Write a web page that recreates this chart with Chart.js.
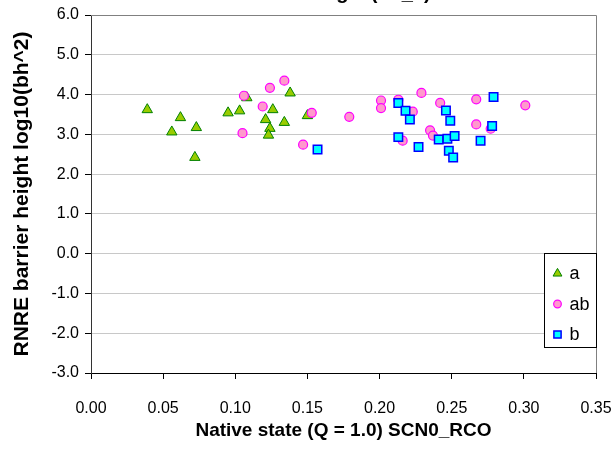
<!DOCTYPE html>
<html>
<head>
<meta charset="utf-8">
<script src="https://cdn.jsdelivr.net/npm/chart.js"></script>
<style>
    html, body { margin: 0; padding: 0; background: #fff; overflow: hidden; }
    #wrap { position: relative; width: 616px; height: 453px; }
</style>
</head>
<body>
<div id="wrap"><canvas id="scatterChart" width="616" height="453"></canvas></div>
<script>
// Nhóm a (tam giác)
var groupA_x = [0.039, 0.056, 0.062, 0.073, 0.072, 0.095, 0.103, 0.108, 0.126, 0.121, 0.124, 0.123, 0.134, 0.138, 0.150];
var groupA_y = [3.62, 3.06, 3.42, 3.17, 2.42, 3.54, 3.59, 3.92, 3.62, 3.37, 3.15, 2.98, 3.30, 4.04, 3.47];

// Nhóm ab (hình tròn)
var groupAB_x = [0.106, 0.105, 0.119, 0.124, 0.134, 0.147, 0.153, 0.179, 0.201, 0.201, 0.213, 0.223, 0.229, 0.216, 0.242, 0.235, 0.237, 0.267, 0.267, 0.277, 0.301];
var groupAB_y = [3.97, 3.03, 3.70, 4.17, 4.35, 2.74, 3.54, 3.44, 3.85, 3.66, 3.87, 3.57, 4.04, 2.84, 3.79, 3.10, 2.97, 3.88, 3.25, 3.14, 3.73];

// Nhóm b (hình vuông)
var groupB_x = [0.157, 0.213, 0.218, 0.221, 0.213, 0.227, 0.246, 0.249, 0.241, 0.247, 0.252, 0.248, 0.251, 0.270, 0.279, 0.278];
var groupB_y = [2.62, 3.79, 3.59, 3.37, 2.93, 2.68, 3.60, 3.34, 2.87, 2.89, 2.96, 2.59, 2.42, 2.84, 3.94, 3.21];

var groupLabels = ['a', 'ab', 'b'];
var xRange = [0, 0.35, 0.05];
var yRange = [-3, 6, 1];

var chartTitle = 'RNRE log10(bh_2)';
var xTitle = 'Native state (Q = 1.0) SCN0_RCO';
var yTitle = 'RNRE barrier height log10(bh^2)';

var FONT = '"Liberation Sans", Arial, sans-serif';

function ScatterChart() { }

ScatterChart.prototype = {
    chart: null,

    init: function () {
        this.draw();
    },

    toPoints: function (xs, ys) {
        return xs.map(function (x, i) { return { x: x, y: ys[i] }; });
    },

    draw: function () {
        var me = this;

        var datasets = [{
            label: groupLabels[0],
            data: me.toPoints(groupA_x, groupA_y),
            pointStyle: 'triangle',
            pointRadius: 6,
            backgroundColor: '#99cc00',
            borderColor: '#008000',
            borderWidth: 1,
            order: 3
        }, {
            label: groupLabels[1],
            data: me.toPoints(groupAB_x, groupAB_y),
            pointStyle: 'circle',
            pointRadius: 4.5,
            backgroundColor: '#ff99cc',
            borderColor: '#ff00ff',
            borderWidth: 1.2,
            order: 2
        }, {
            label: groupLabels[2],
            data: me.toPoints(groupB_x, groupB_y),
            pointStyle: 'rect',
            pointRadius: 6,
            backgroundColor: '#00ffff',
            borderColor: '#0000ff',
            borderWidth: 1.5,
            order: 1
        }];

        // khung viền trên/phải, chú thích và tiêu đề
        var extras = {
            id: 'extras',
            beforeDatasetsDraw: function (chart) {
                var a = chart.chartArea, ctx = chart.ctx;
                ctx.save();
                ctx.strokeStyle = '#808080';
                ctx.lineWidth = 1;
                ctx.beginPath();
                ctx.moveTo(a.left, Math.round(a.top) + 0.5);
                ctx.lineTo(Math.round(a.right) + 0.5, Math.round(a.top) + 0.5);
                ctx.lineTo(Math.round(a.right) + 0.5, a.bottom);
                ctx.stroke();
                ctx.restore();
            },
            afterDatasetsDraw: function (chart) {
                var a = chart.chartArea, ctx = chart.ctx;
                var boxW = 52, boxH = 94;
                var bx = Math.round(a.right) - boxW + 0.5;
                var by = Math.round(a.top) + 238.5;
                ctx.save();
                ctx.fillStyle = '#fff';
                ctx.fillRect(bx, by, boxW, boxH);
                ctx.strokeStyle = '#000';
                ctx.lineWidth = 1;
                ctx.strokeRect(bx, by, boxW, boxH);
                ctx.font = '18px ' + FONT;
                ctx.textBaseline = 'middle';
                ctx.textAlign = 'left';
                chart.data.datasets.forEach(function (ds, i) {
                    var cy = by + 20 + i * 30.5;
                    ctx.fillStyle = ds.backgroundColor;
                    ctx.strokeStyle = ds.borderColor;
                    ctx.lineWidth = ds.borderWidth;
                    Chart.helpers.drawPoint(ctx, {
                        pointStyle: ds.pointStyle,
                        radius: ds.pointRadius * 0.85,
                        rotation: 0,
                        borderWidth: ds.borderWidth
                    }, bx + 13, cy);
                    ctx.fillStyle = '#000';
                    ctx.fillText(ds.label, bx + 25, cy + 1);
                });
                ctx.restore();
            },
            afterDraw: function (chart) {
                var a = chart.chartArea, ctx = chart.ctx;
                ctx.save();
                ctx.font = 'bold 20px ' + FONT;
                ctx.fillStyle = '#000';
                ctx.textAlign = 'center';
                ctx.textBaseline = 'alphabetic';
                ctx.fillText(chartTitle, (a.left + a.right) / 2, -1);
                ctx.restore();
            }
        };

        me.chart = new Chart(document.getElementById('scatterChart'), {
            type: 'scatter',
            data: { datasets: datasets },
            plugins: [extras],
            options: {
                responsive: false,
                animation: false,
                devicePixelRatio: 1,
                layout: { padding: { top: 15, right: 20, left: 0, bottom: 0 } },
                plugins: {
                    legend: { display: false },
                    tooltip: { enabled: false }
                },
                scales: {
                    x: {
                        type: 'linear',
                        min: xRange[0],
                        max: xRange[1],
                        afterFit: function (scale) {
                            scale.height = 80;
                            scale.paddingLeft = 0;
                            scale.paddingRight = 0;
                        },
                        ticks: {
                            stepSize: xRange[2],
                            color: '#000',
                            font: { family: FONT, size: 16 },
                            padding: 20,
                            maxRotation: 0,
                            callback: function (v) { return v.toFixed(2); }
                        },
                        grid: { drawOnChartArea: false, drawTicks: true, tickLength: 6, tickColor: '#000' },
                        border: { color: '#000', width: 1 },
                        title: {
                            display: true,
                            text: xTitle,
                            color: '#000',
                            font: { family: FONT, size: 19, weight: 'bold' },
                            padding: { top: 0, bottom: 11 }
                        }
                    },
                    y: {
                        type: 'linear',
                        min: yRange[0],
                        max: yRange[1],
                        afterFit: function (scale) {
                            scale.width = 91;
                            scale.paddingTop = 0;
                            scale.paddingBottom = 0;
                        },
                        ticks: {
                            stepSize: yRange[2],
                            color: '#000',
                            font: { family: FONT, size: 16 },
                            padding: 6,
                            callback: function (v) { return v.toFixed(1); }
                        },
                        grid: { color: '#c8c8c8', lineWidth: 1, tickLength: 6, tickColor: '#000' },
                        border: { color: '#333', width: 1 },
                        title: {
                            display: true,
                            text: yTitle,
                            color: '#000',
                            font: { family: FONT, size: 21, weight: 'bold' },
                            padding: { top: 10, bottom: 0 }
                        }
                    }
                }
            }
        });
    }
};

new ScatterChart().init();
</script>
</body>
</html>
